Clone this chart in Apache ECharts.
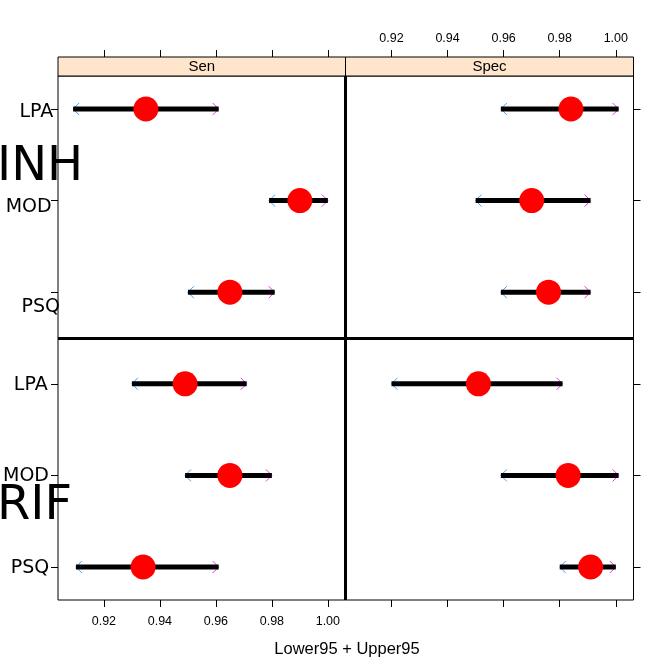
<!DOCTYPE html>
<html><head><meta charset="utf-8">
<script src="https://cdn.jsdelivr.net/npm/echarts@6/dist/echarts.min.js"></script>
<style>html,body{margin:0;padding:0;background:#fff}#c{width:672px;height:671px}</style>
</head><body><div id="c"></div>
<script>
// ---- data ----
const metrics = ['Sen', 'Spec'];
const groups = ['INH', 'RIF'];
const tests = ['LPA', 'MOD', 'PSQ'];
const xTicks = [0.92, 0.94, 0.96, 0.98, 1.00];
const axisTitle = 'Lower95 + Upper95';
// row order: INH LPA, INH MOD, INH PSQ, RIF LPA, RIF MOD, RIF PSQ
const senEst   = [0.935, 0.990, 0.965, 0.949, 0.965, 0.934];
const senLower = [0.909, 0.979, 0.950, 0.930, 0.949, 0.910];
const senUpper = [0.961, 1.000, 0.981, 0.971, 0.980, 0.961];
const specEst   = [0.984, 0.970, 0.976, 0.951, 0.983, 0.991];
const specLower = [0.959, 0.950, 0.959, 0.920, 0.959, 0.980];
const specUpper = [1.001, 0.991, 0.991, 0.981, 1.001, 1.000];

// ---- style / layout ----
const labelNudgeY = [3, 6, 15, 1, 1, 1.5];
const labelPadRight = [6.7, 8.3, 0, 12.3, 11, 10.7];
const LAY = {top: 76, bottom: 600, x0: 58, xm: 345.5, x1: 633.5, stripTop: 57};
const FONT = 'Liberation Sans, Arial, sans-serif';
const BIGFONT = 'DejaVu Sans, Verdana, sans-serif';

const est = [senEst, specEst], lo = [senLower, specLower], up = [senUpper, specUpper];
const rows = [];
groups.forEach((g, gi) => tests.forEach((t, ti) => rows.push(gi * tests.length + ti)));
const rowLabel = r => tests[r % tests.length];

const chart = echarts.init(document.getElementById('c'));
const gridCommon = {top: LAY.top, height: LAY.bottom - LAY.top, show: true, borderColor: '#000', borderWidth: 1,
  containLabel: false, outerBoundsMode: 'none', backgroundColor: 'transparent'};
const grids = [
  Object.assign({left: LAY.x0, width: LAY.xm - LAY.x0}, gridCommon),
  Object.assign({left: LAY.xm, width: LAY.x1 - LAY.xm}, gridCommon)
];

function xAxis(gi, pos, showLabel) {
  return {
    type: 'value', gridIndex: gi, position: pos, min: 0.9036, max: 1.0063,
    offset: pos === 'top' ? (LAY.top - LAY.stripTop) : 0,
    splitLine: {show: false}, axisLine: {show: false, onZero: false},
    axisTick: {show: true, inside: false, length: 7, customValues: xTicks, lineStyle: {color: '#000', width: 1}},
    axisLabel: {show: showLabel, customValues: xTicks, margin: pos === 'top' ? 12 : 15,
      formatter: v => v.toFixed(2), fontFamily: FONT, fontSize: 12.5, color: '#000'}
  };
}
const rich = {};
rows.forEach(r => {
  rich['r' + r] = {fontFamily: BIGFONT, fontSize: 19, color: '#000', padding: [2 * labelNudgeY[r], labelPadRight[r], 0, 0]};
});
function yAxis(gi, pos, showLabel) {
  return {
    type: 'value', gridIndex: gi, position: pos, min: -0.36, max: 5.36, inverse: true,
    splitLine: {show: false}, axisLine: {show: false, onZero: false},
    axisTick: {show: true, inside: false, length: 7, customValues: rows, lineStyle: {color: '#000', width: 1}},
    axisLabel: {show: showLabel, customValues: rows, margin: -2,
      formatter: v => { const r = Math.round(v); return '{r' + r + '|' + rowLabel(r) + '}'; },
      rich: rich}
  };
}

function chevron(x, y, dir, color) {
  const a = 6;
  return {type: 'polyline', shape: {points: [[x + dir * a, y - a], [x, y], [x + dir * a, y + a]]},
    style: {stroke: color, lineWidth: 1, fill: null, opacity: 0.85}, z2: 5};
}

const series = [];
metrics.forEach((m, mi) => {
  const xi = mi === 0 ? 0 : 2;
  series.push({
    type: 'custom', name: m + ' CI', xAxisIndex: xi, yAxisIndex: mi, clip: false,
    encode: {x: [0, 1], y: 2},
    data: rows.map(r => [lo[mi][r], up[mi][r], r]),
    renderItem: (params, api) => {
      const y = api.value(2);
      const p1 = api.coord([api.value(0), y]);
      const p2 = api.coord([api.value(1), y]);
      return {type: 'group', children: [
        chevron(p1[0], p1[1], 1, '#1E90FF'),
        chevron(p2[0], p2[1], -1, '#FF00FF'),
        {type: 'line', shape: {x1: p1[0], y1: p1[1], x2: p2[0], y2: p2[1]}, style: {stroke: '#000', lineWidth: 5}, z2: 10}
      ]};
    },
    z: 2
  });
  series.push({
    type: 'scatter', name: m, xAxisIndex: xi, yAxisIndex: mi,
    data: rows.map(r => [est[mi][r], r]),
    symbol: 'circle', symbolSize: 25, itemStyle: {color: '#FF0000', opacity: 1},
    z: 3, silent: true,
    markLine: {silent: true, symbol: ['none', 'none'], label: {show: false},
      lineStyle: {color: '#000', width: 3, type: 'solid'},
      data: [{yAxis: tests.length - 0.5}]}
  });
});

const graphic = [];
metrics.forEach((m, mi) => {
  const x0 = mi === 0 ? LAY.x0 : LAY.xm, x1 = mi === 0 ? LAY.xm : LAY.x1;
  graphic.push({type: 'rect', shape: {x: x0, y: LAY.stripTop, width: x1 - x0, height: LAY.top - LAY.stripTop},
    style: {fill: '#FFE5CC', stroke: '#000', lineWidth: 1}, z: 1});
  graphic.push({type: 'text', x: (x0 + x1) / 2, y: (LAY.stripTop + LAY.top) / 2 + 0.5,
    style: {text: m, font: '15px ' + FONT, fill: '#000', align: 'center', verticalAlign: 'middle'}, z: 2});
});
graphic.push({type: 'line', shape: {x1: LAY.xm, y1: LAY.top, x2: LAY.xm, y2: LAY.bottom},
  style: {stroke: '#000', lineWidth: 3}, z: 10});
graphic.push({type: 'text', x: 347, y: 649,
  style: {text: axisTitle, font: '16.5px ' + FONT, fill: '#000', align: 'center', verticalAlign: 'middle'}});
const groupLabelY = [167.5, 507];
groups.forEach((g, gi) => {
  graphic.push({type: 'text', x: -3, y: groupLabelY[gi],
    style: {text: g, font: '48px ' + BIGFONT, fill: '#000', align: 'left', verticalAlign: 'middle'}, z: 20});
});

chart.setOption({
  animation: false,
  backgroundColor: '#fff',
  grid: grids,
  xAxis: [xAxis(0, 'bottom', true), xAxis(0, 'top', false), xAxis(1, 'bottom', false), xAxis(1, 'top', true)],
  yAxis: [yAxis(0, 'left', true), yAxis(1, 'right', false)],
  series: series,
  graphic: graphic
});
</script></body></html>
